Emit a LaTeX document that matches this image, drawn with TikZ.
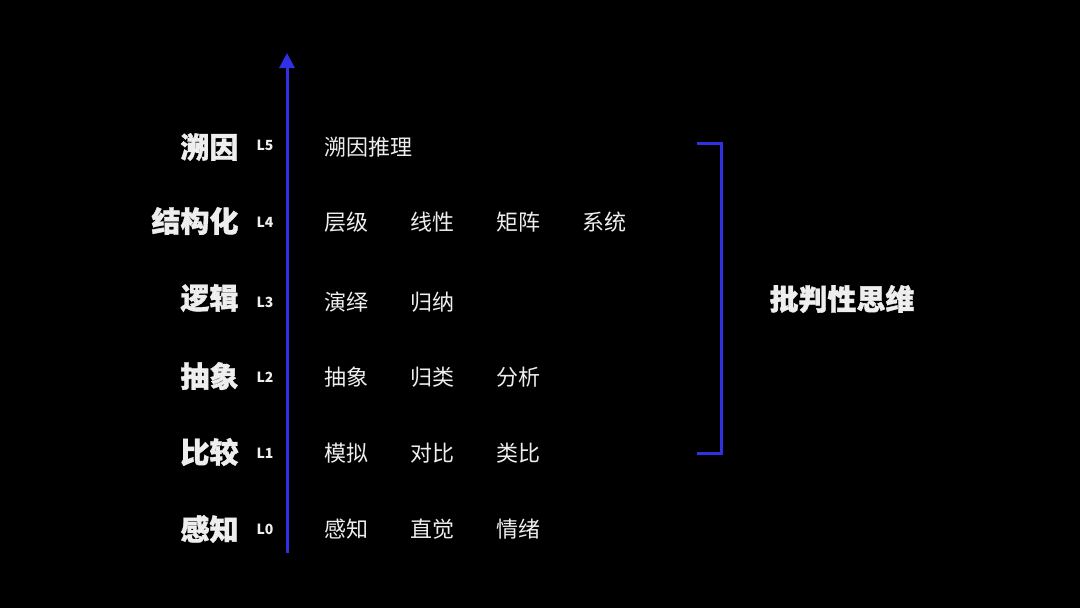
\documentclass[tikz,border=0pt]{standalone}
\usepackage{fontspec}
\usepackage{tikz}
\usetikzlibrary{arrows.meta}
\newfontfamily\cjk{Noto Sans CJK SC}
\newfontfamily\cjkheavy[FakeBold=1.2]{Noto Sans CJK SC}
\definecolor{axisblue}{RGB}{48,48,228}
\definecolor{txtwhite}{RGB}{238,238,238}

\begin{document}
\begin{tikzpicture}[x=1pt,y=-1pt,line width=3pt,
  level/.style={anchor=east,inner sep=0pt,text=txtwhite,font=\cjkheavy\bfseries\fontsize{29}{31}\selectfont},
  tag/.style={anchor=center,inner sep=0pt,text=txtwhite,font=\cjk\bfseries\fontsize{14}{16}\selectfont},
  item/.style={anchor=west,inner sep=0pt,text=txtwhite,font=\cjk\fontsize{22}{25}\selectfont}]
\path[use as bounding box,fill=black] (0,0) rectangle (1080,608);
\coordinate (axis bottom) at (287,553);
\coordinate (axis top) at (287,53);
\draw[axisblue,-{Triangle[length=15pt,width=15pt]}] (axis bottom) -- (axis top);
\node[level] (lv5) at (240,147) {溯因};
\node[level] (lv4) at (240,221) {结构化};
\node[level] (lv3) at (240,298) {逻辑};
\node[level] (lv2) at (240,376) {抽象};
\node[level] (lv1) at (240,452) {比较};
\node[level] (lv0) at (240,529) {感知};
\node[tag] (t5) at (265,145) {L5};
\node[tag] (t4) at (265,222) {L4};
\node[tag] (t3) at (265,302) {L3};
\node[tag] (t2) at (265,377) {L2};
\node[tag] (t1) at (265,453) {L1};
\node[tag] (t0) at (265,529) {L0};
\node[item] (a5) at (323,147) {溯因推理};
\node[item] (a4) at (323,222) {层级};
\node[item] (b4) at (409,222) {线性};
\node[item] (c4) at (495,222) {矩阵};
\node[item] (d4) at (581,222) {系统};
\node[item] (a3) at (323,302) {演绎};
\node[item] (b3) at (409,302) {归纳};
\node[item] (a2) at (323,377) {抽象};
\node[item] (b2) at (409,377) {归类};
\node[item] (c2) at (495,377) {分析};
\node[item] (a1) at (323,453) {模拟};
\node[item] (b1) at (409,453) {对比};
\node[item] (c1) at (495,453) {类比};
\node[item] (a0) at (323,529) {感知};
\node[item] (b0) at (409,529) {直觉};
\node[item] (c0) at (495,529) {情绪};
\draw[axisblue,line cap=rect] (698,143) -- (721,143) -- (721,453) -- (698,453);
\node[level,anchor=center] (crit) at (842,299) {批判性思维};
\end{tikzpicture}
\end{document}
